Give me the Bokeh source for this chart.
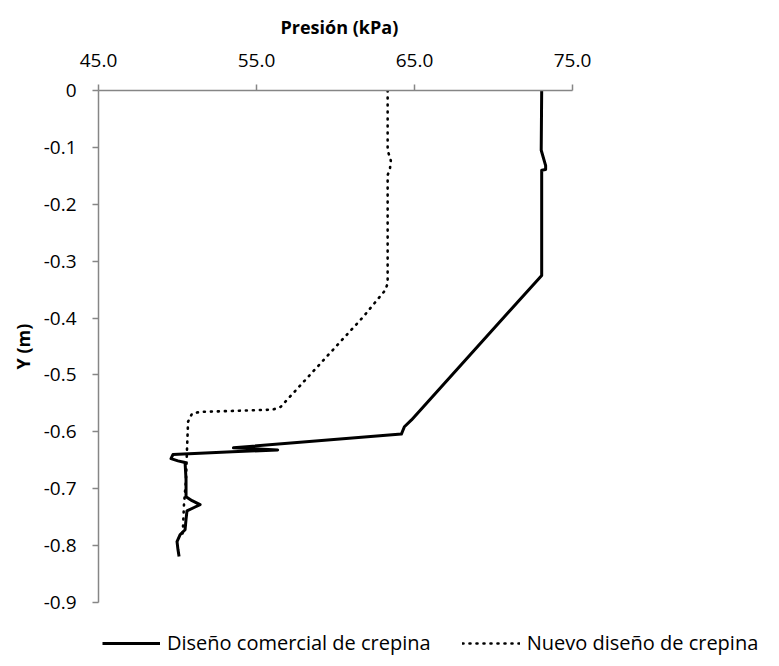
from bokeh.plotting import figure
from bokeh.models import Legend, LegendItem, FixedTicker, Title
from bokeh.embed import file_html
from bokeh.resources import INLINE

# ---- data ----
comercial_p = [73.05, 73.02, 73.3, 73.3, 73.05, 73.05, 64.81, 64.36, 64.17,
               53.54, 56.34, 53.47, 49.71, 49.59, 50.03, 50.48, 50.54, 50.54,
               50.92, 51.43, 51.05, 50.6, 50.54, 50.48, 50.16, 49.97, 50.03, 50.1]
comercial_y = [0.0, -0.105, -0.132, -0.139, -0.14, -0.325, -0.579, -0.591, -0.604,
               -0.628, -0.632, -0.635, -0.64, -0.647, -0.651, -0.654, -0.684, -0.714,
               -0.721, -0.728, -0.733, -0.739, -0.754, -0.772, -0.781, -0.793, -0.807, -0.819]

nuevo_p = [63.3, 63.3, 63.5, 63.45, 63.3, 63.3, 63.15, 62.64, 61.75, 56.53, 56.02,
           51.43, 50.92, 50.67, 50.6, 50.54, 50.41, 50.35, 50.29]
nuevo_y = [0.0, -0.105, -0.123, -0.137, -0.149, -0.339, -0.351, -0.368, -0.398, -0.556, -0.561,
           -0.565, -0.568, -0.582, -0.632, -0.684, -0.728, -0.767, -0.789]

x_ticks = [45, 55, 65, 75]
x_tick_labels = ["45.0", "55.0", "65.0", "75.0"]
y_ticks = [0, -0.1, -0.2, -0.3, -0.4, -0.5, -0.6, -0.7, -0.8, -0.9]
y_tick_labels = ["0", "-0.1", "-0.2", "-0.3", "-0.4", "-0.5", "-0.6", "-0.7", "-0.8", "-0.9"]

series_names = ["Diseño comercial de crepina", "Nuevo diseño de crepina"]
x_title = "Presión (kPa)"
y_title = "Y (m)"

FONT = "Open Sans"
AXIS_COLOR = "#868686"

W, H = 771, 658
# pixel box of the drawn axes (the frame itself runs to the canvas edges
# so that the legend below/right of the axes is not clipped)
AX_L, AX_R, AX_T, AX_B = 98, 572, 90, 602
X_MIN, X_MAX = 45.0, 75.0
Y_MIN, Y_MAX = -0.9, 0.0
x_end = X_MIN + (X_MAX - X_MIN) * (W - AX_L) / (AX_R - AX_L)
y_start = Y_MAX - (Y_MAX - Y_MIN) * (H - AX_T) / (AX_B - AX_T)

p = figure(width=W, height=H, x_range=(X_MIN, x_end), y_range=(y_start, Y_MAX),
           x_axis_location="above", output_backend="svg", toolbar_location=None,
           min_border_left=AX_L, min_border_right=0,
           min_border_top=AX_T, min_border_bottom=0)
p.outline_line_color = None
p.grid.visible = False
p.background_fill_color = "white"
p.border_fill_color = "white"

r1 = p.line(comercial_p, comercial_y, line_color="black", line_width=3,
            line_join="round")
r2 = p.line(nuevo_p, nuevo_y, line_color="black", line_width=2.6,
            line_dash="1 6", line_cap="round")

xa = p.xaxis[0]
xa.ticker = FixedTicker(ticks=x_ticks)
xa.major_label_overrides = {t: l for t, l in zip(x_ticks, x_tick_labels)}
xa.bounds = (X_MIN, X_MAX)
ya = p.yaxis[0]
ya.ticker = FixedTicker(ticks=y_ticks)
ya.major_label_overrides = {t: l for t, l in zip(y_ticks, y_tick_labels)}
ya.bounds = (Y_MIN, Y_MAX)

for ax in (xa, ya):
    ax.axis_line_color = AXIS_COLOR
    ax.axis_line_width = 1.5
    ax.major_tick_line_color = AXIS_COLOR
    ax.major_tick_line_width = 1.5
    ax.major_tick_in = 0
    ax.major_tick_out = 6
    ax.minor_tick_line_color = None
    ax.major_label_text_font = FONT
    ax.major_label_text_font_size = "19px"
    ax.major_label_text_color = "black"

xa.major_label_standoff = 18
ya.major_label_standoff = 16

# axis titles, centred on the drawn axes rather than on the extended frame
TITLE_W_X = 116   # approx. rendered width of x title
TITLE_W_Y = 46    # approx. rendered width of y title
tx = Title(text=x_title, align="left",
           offset=(AX_L + AX_R) / 2 - TITLE_W_X / 2 - AX_L + 3,
           text_font=FONT, text_font_size="18px", text_font_style="bold",
           text_color="black", standoff=23)
ty = Title(text=y_title, align="left",
           offset=H - ((AX_T + AX_B) / 2 + TITLE_W_Y / 2),
           text_font=FONT, text_font_size="18px", text_font_style="bold",
           text_color="black", standoff=12)
p.add_layout(tx, "above")
p.add_layout(ty, "left")

legend = Legend(items=[LegendItem(label=series_names[0], renderers=[r1]),
                       LegendItem(label=series_names[1], renderers=[r2])],
                location=(4, 2), orientation="horizontal")
legend.padding = 0
legend.margin = 0
legend.spacing = 31
legend.border_line_alpha = 0
legend.background_fill_alpha = 0
legend.glyph_width = 58
legend.glyph_height = 20
legend.label_height = 20
legend.label_standoff = 7
legend.label_text_font = FONT
legend.label_text_font_size = "20px"
legend.label_text_color = "black"
p.add_layout(legend)

open("out.html", "w").write(file_html(p, INLINE))
